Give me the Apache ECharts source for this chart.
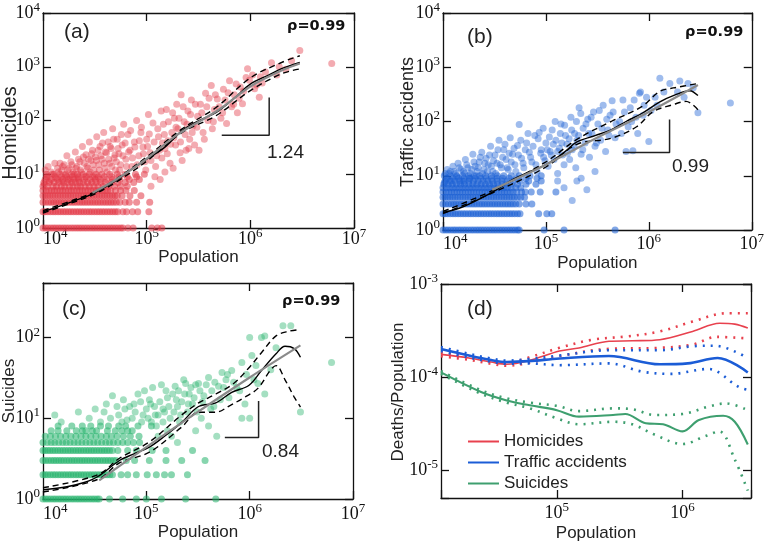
<!DOCTYPE html>
<html><head><meta charset="utf-8">
<script src="https://cdn.jsdelivr.net/npm/echarts@6/dist/echarts.min.js"></script>
<style>html,body{margin:0;padding:0;background:#fff}#c{width:767px;height:543px}</style>
</head><body><div id="c"></div>
<script>
// ---------------- DATA ----------------
// (a) Homicides vs population: integer bands (population lists for each count)
const homBand1 = [1e4,1.06e4,1.12e4,1.19e4,1.26e4,1.33e4,1.41e4,1.49e4,1.58e4,1.67e4,1.77e4,1.88e4,1.99e4,2.11e4,2.23e4,2.36e4,2.5e4,2.65e4,2.81e4,2.98e4,3.15e4,3.34e4,3.54e4,3.75e4,3.97e4,4.21e4,4.46e4,4.72e4,5e4,5.3e4,5.62e4,5.9e4,6.6e4,7.4e4,1.12e5,1.27e5,1.4e5];
const homBand2 = [1e4,1.05e4,1.11e4,1.18e4,1.25e4,1.32e4,1.4e4,1.48e4,1.57e4,1.66e4,1.76e4,1.86e4,1.97e4,2.09e4,2.21e4,2.34e4,2.48e4,2.63e4,2.79e4,2.95e4,3.13e4,3.32e4,3.51e4,3.72e4,3.94e4,4.18e4,4.43e4,4.69e4,4.97e4,5.25e4,5.9e4,6.4e4,7.3e4,8.2e4,1.05e5];
const homBand3 = [1e4,1.06e4,1.13e4,1.2e4,1.27e4,1.34e4,1.42e4,1.5e4,1.59e4,1.69e4,1.79e4,1.9e4,2.01e4,2.13e4,2.26e4,2.39e4,2.53e4,2.68e4,2.84e4,3.01e4,3.19e4,3.38e4,3.58e4,3.8e4,4.03e4,4.27e4,4.52e4,4.79e4,5.1e4,5.5e4,6.2e4,6.8e4,8e4,1.07e5];
const homBand4 = [1e4,1.05e4,1.11e4,1.17e4,1.24e4,1.31e4,1.39e4,1.47e4,1.56e4,1.65e4,1.75e4,1.85e4,1.96e4,2.08e4,2.2e4,2.33e4,2.47e4,2.62e4,2.77e4,2.94e4,3.11e4,3.3e4,3.5e4,3.71e4,3.93e4,4.16e4,4.41e4,4.67e4,4.95e4,5.2e4,5.8e4,6.9e4,8.8e4];
const homBand5 = [1e4,1.07e4,1.14e4,1.21e4,1.29e4,1.37e4,1.46e4,1.55e4,1.65e4,1.76e4,1.87e4,1.99e4,2.12e4,2.26e4,2.4e4,2.56e4,2.72e4,2.9e4,3.08e4,3.28e4,3.49e4,3.72e4,3.96e4,4.2e4,4.5e4,5e4,5.6e4,6.3e4,7.6e4];
const homBand6 = [1e4,1.1e4,1.25e4,1.35e4,1.5e4,1.62e4,1.8e4,1.95e4,2.15e4,2.3e4,2.55e4,2.8e4,3.1e4,3.4e4,3.8e4,4.3e4,4.9e4,5.6e4,6.5e4];
const homBand7 = [1.02e4,1.15e4,1.28e4,1.42e4,1.58e4,1.72e4,1.9e4,2.05e4,2.25e4,2.45e4,2.7e4,2.95e4,3.25e4,3.6e4,4e4,4.6e4,5.3e4,6.2e4,7.5e4];
const homBand8 = [1.05e4,1.2e4,1.38e4,1.55e4,1.75e4,1.98e4,2.2e4,2.5e4,2.85e4,3.2e4,3.55e4,4.1e4,4.7e4,5.5e4,6.8e4,8.5e4];
const homBand9 = [1.1e4,1.3e4,1.5e4,1.7e4,1.92e4,2.2e4,2.6e4,3e4,3.4e4,3.9e4,4.6e4,5.4e4,6.5e4,8e4];
const homBand10 = [1.08e4,1.27e4,1.46e4,1.66e4,1.9e4,2.15e4,2.45e4,2.8e4,3.25e4,3.7e4,4.4e4,5.2e4,6.2e4,7.8e4,9.5e4];
const homCloud = [[1.05e4,12],[1.12e4,14],[1.2e4,11],[1.3e4,16],[1.38e4,13],[1.46e4,16],[1.52e4,12],[1.6e4,15],[1.7e4,22],[1.78e4,13],[1.86e4,17],[1.95e4,11],[2.05e4,26],[2.12e4,14],[2.2e4,19],[2.3e4,12],[2.4e4,33],[2.5e4,16],[2.6e4,23],[2.7e4,13],[2.8e4,40],[2.9e4,18],[3e4,28],[3.1e4,12],[3.2e4,21],[3.3e4,50],[3.45e4,15],[3.55e4,33],[3.7e4,19],[3.85e4,60],[3.95e4,13],[4.1e4,25],[4.25e4,40],[4.4e4,16],[4.55e4,30],[4.7e4,70],[4.85e4,20],[5e4,12],[5.2e4,45],[5.4e4,24],[5.6e4,15],[5.8e4,35],[6e4,85],[6.3e4,19],[6.6e4,55],[6.9e4,28],[7.2e4,14],[7.6e4,40],[8e4,100],[8.4e4,22],[8.8e4,60],[9.2e4,32],[9.6e4,17],[1e5,45],[1.04e5,130],[1.08e5,25],[1.1e5,6],[1.2e5,9],[1.35e5,8],[1.5e5,11],[1.25e5,22],[1.3e5,50],[1.4e5,20],[1.45e5,85],[1.5e5,30],[1.55e5,160],[1.6e5,42],[1.68e5,16],[1.75e5,60],[1.8e5,13],[1.85e5,110],[1.9e5,35],[1.95e5,200],[2e5,70],[2.1e5,25],[2.15e5,300],[2.2e5,18],[2.3e5,95],[2.4e5,28],[2.5e5,150],[2.6e5,45],[2.7e5,240],[2.8e5,80],[2.9e5,35],[3.1e5,120],[3.2e5,28],[3.3e5,200],[3.5e5,60],[3.7e5,320],[3.9e5,100],[4.2e5,450],[4.3e5,70],[4.5e5,160],[4.8e5,250],[5.2e5,110],[5.5e5,380],[5.9e5,88],[6.3e5,550],[6.6e5,180],[7e5,300],[7.5e5,140],[8e5,420],[8.4e5,205],[9.1e5,630],[9.4e5,920],[1.1e6,390],[1.22e6,270],[1.3e6,500],[1.4e6,800],[1.6e6,1190],[1.8e6,700],[2.2e6,900],[2.5e6,1300],[3e6,2000],[6.1e6,1150]];
const homCloud2 = [[1.03e4,6.5],[1.09e4,9],[1.15e4,7.5],[1.23e4,10],[1.33e4,8.5],[1.41e4,11],[1.5e4,7.5],[1.55e4,14],[1.65e4,9.5],[1.73e4,12],[1.82e4,8],[1.9e4,15],[2e4,10],[2.08e4,13],[2.17e4,8.5],[2.27e4,17],[2.35e4,11],[2.45e4,21],[2.55e4,9],[2.65e4,14],[2.75e4,19],[2.85e4,11],[2.95e4,24],[3.05e4,15],[3.15e4,9],[3.27e4,18],[3.4e4,28],[3.5e4,12],[3.62e4,22],[3.75e4,38],[3.9e4,16],[4e4,26],[4.15e4,11],[4.3e4,19],[4.45e4,33],[4.6e4,14],[4.8e4,45],[4.95e4,23],[5.1e4,17],[5.3e4,30],[5.5e4,12],[5.7e4,55],[5.9e4,22],[6.2e4,38],[6.4e4,14],[6.7e4,26],[7e4,65],[7.3e4,20],[7.7e4,32],[8.1e4,15],[8.5e4,42],[8.9e4,75],[9.3e4,24],[9.8e4,12],[1.02e5,33],[1.06e5,56],[1.1e5,18],[1.15e5,90],[1.18e5,40],[1.22e5,14],[1.28e5,70],[1.33e5,28],[1.38e5,150],[1.42e5,38],[1.48e5,55],[1.58e5,24],[1.62e5,95],[1.7e5,36],[1.78e5,140],[1.83e5,48],[1.92e5,75],[2.05e5,110],[2.12e5,40],[2.25e5,180],[2.35e5,55],[2.45e5,85],[2.55e5,30],[2.65e5,130],[2.75e5,60],[2.95e5,200],[3.05e5,75],[3.4e5,140],[3.6e5,45],[3.8e5,180],[4e5,260],[4.4e5,95],[4.6e5,300],[5e5,180],[5.4e5,140],[5.7e5,240],[6.1e5,330],[6.9e5,200],[7.3e5,480],[7.8e5,260],[8.6e5,350],[9.8e5,560],[1.05e6,700],[1.15e6,460],[1.25e6,650],[1.9e6,1000]];
const homFit = [[1e4,2.0],[1.5e4,2.6],[2e4,3.2],[3e4,4.3],[5e4,7.5],[7e4,12],[1e5,19],[1.5e5,32],[2.2e5,65],[3.2e5,100],[4.7e5,142],[7e5,260],[1e6,475],[1.5e6,700],[2e6,920],[3e6,1200]];
const homGrey = [[3e4,4.5],[5e4,7.8],[1e5,19.5],[2e5,55],[5e5,160],[1e6,430],[2e6,850],[3e6,1150]];
const homUpper = [[1e4,2.1],[2e4,3.35],[3e4,4.5],[5e4,8],[1e5,21],[2.2e5,70],[4.7e5,176],[1e6,620],[2e6,1200],[3e6,1600]];
const homLower = [[1e4,1.9],[2e4,3.05],[3e4,4.1],[5e4,7],[1e5,17.5],[2.2e5,60],[4.7e5,124],[1e6,360],[2e6,740],[3e6,910]];
const homSlope = [[5.3e5,53],[1.52e6,53],[1.52e6,267]];

// (b) Traffic accidents
const trfBand1 = [1e4,1.06e4,1.12e4,1.19e4,1.26e4,1.33e4,1.41e4,1.49e4,1.58e4,1.67e4,1.77e4,1.88e4,1.99e4,2.11e4,2.23e4,2.36e4,2.5e4,2.65e4,2.81e4,2.98e4,3.15e4,3.34e4,3.54e4,3.75e4,3.97e4,4.21e4,4.46e4,4.72e4,5e4,5.3e4,5.5e4,9.6e4,1.5e5,4.7e5];
const trfBand2 = [1e4,1.05e4,1.11e4,1.18e4,1.25e4,1.32e4,1.4e4,1.48e4,1.57e4,1.66e4,1.76e4,1.86e4,1.97e4,2.09e4,2.21e4,2.34e4,2.48e4,2.63e4,2.79e4,2.95e4,3.13e4,3.32e4,3.51e4,3.72e4,3.94e4,4.18e4,4.43e4,4.69e4,4.97e4,5.3e4,5.6e4,8.5e4,1.02e5,1.14e5];
const trfBand3 = [1e4,1.06e4,1.13e4,1.2e4,1.27e4,1.34e4,1.42e4,1.5e4,1.59e4,1.69e4,1.79e4,1.9e4,2.01e4,2.13e4,2.26e4,2.39e4,2.53e4,2.68e4,2.84e4,3.01e4,3.19e4,3.38e4,3.58e4,3.8e4,4.03e4,4.27e4,4.52e4,4.79e4,5.1e4,5.5e4,6.4e4,7.3e4];
const trfBand4 = [1e4,1.05e4,1.11e4,1.17e4,1.24e4,1.31e4,1.39e4,1.47e4,1.56e4,1.65e4,1.75e4,1.85e4,1.96e4,2.08e4,2.2e4,2.33e4,2.47e4,2.62e4,2.77e4,2.94e4,3.11e4,3.3e4,3.5e4,3.71e4,3.93e4,4.16e4,4.41e4,4.67e4,4.95e4,5.3e4,5.7e4,6.2e4];
const trfBand5 = [1e4,1.07e4,1.14e4,1.21e4,1.29e4,1.37e4,1.46e4,1.55e4,1.65e4,1.76e4,1.87e4,1.99e4,2.12e4,2.26e4,2.4e4,2.56e4,2.72e4,2.9e4,3.08e4,3.28e4,3.49e4,3.72e4,3.96e4,4.2e4,4.5e4,4.8e4,5.2e4,5.8e4,6.3e4,7.2e4,8.8e4,1.25e5];
const trfBand6 = [1e4,1.08e4,1.16e4,1.25e4,1.34e4,1.44e4,1.55e4,1.66e4,1.79e4,1.92e4,2.06e4,2.22e4,2.38e4,2.56e4,2.75e4,2.95e4,3.17e4,3.4e4,3.66e4,3.93e4,4.22e4,4.6e4,5.1e4,5.7e4];
const trfBand7 = [1.02e4,1.12e4,1.23e4,1.35e4,1.48e4,1.62e4,1.78e4,1.95e4,2.14e4,2.35e4,2.58e4,2.83e4,3.1e4,3.4e4,3.75e4,4.1e4,4.6e4,5.3e4,6.4e4,8e4];
const trfBand8 = [1.05e4,1.17e4,1.3e4,1.45e4,1.6e4,1.78e4,1.98e4,2.2e4,2.45e4,2.72e4,3.02e4,3.36e4,3.75e4,4.2e4,4.8e4,5.6e4,6.8e4,9e4];
const trfBand9 = [1.1e4,1.25e4,1.42e4,1.6e4,1.82e4,2.05e4,2.32e4,2.62e4,2.97e4,3.35e4,3.8e4,4.4e4,5.2e4,6.4e4,8.2e4];
const trfBand10 = [1.03e4,1.18e4,1.36e4,1.55e4,1.77e4,2e4,2.28e4,2.6e4,2.95e4,3.38e4,3.9e4,4.6e4,5.5e4,7e4,9e4];
const trfCloud = [[1.05e4,11],[1.1e4,13],[1.18e4,12],[1.25e4,15],[1.32e4,11],[1.4e4,17],[1.5e4,13],[1.58e4,12],[1.65e4,20],[1.75e4,14],[1.85e4,11],[1.95e4,25],[2.05e4,15],[2.15e4,12],[2.25e4,18],[2.38e4,27],[2.5e4,13],[2.62e4,21],[2.75e4,16],[2.9e4,35],[3.05e4,12],[3.2e4,24],[3.35e4,17],[3.5e4,45],[3.7e4,14],[3.9e4,30],[4.1e4,20],[4.3e4,13],[4.5e4,50],[4.75e4,25],[5e4,16],[5.3e4,36],[5.5e4,88],[5.8e4,21],[6.1e4,14],[6.5e4,40],[6.9e4,27],[7.3e4,18],[7.8e4,55],[8.2e4,12],[8.6e4,63],[9e4,30],[9.5e4,22],[1e5,40],[1.05e5,15],[1.1e5,28],[1.15e5,70],[1.2e5,20],[1.25e5,45],[1.3e5,11],[1.35e5,32],[1.4e5,90],[1.45e5,24],[1.5e5,16],[1.55e5,55],[1.6e5,38],[1.7e5,20],[1.75e5,120],[1.8e5,30],[1.9e5,60],[1.95e5,14],[2e5,45],[2.1e5,180],[2.2e5,25],[2.3e5,75],[2.4e5,40],[2.5e5,5.5],[2.55e5,110],[2.65e5,22],[2.8e5,60],[2.9e5,150],[3e5,35],[3.2e5,90],[3.4e5,45],[3.6e5,200],[3.8e5,28],[4e5,70],[4.2e5,130],[4.5e5,150],[4.7e5,50],[5.2e5,100],[5.6e5,250],[6e5,28],[6.3e5,80],[6.6e5,180],[7e5,29],[7.5e5,120],[8.1e5,330],[8.3e5,350],[9e5,200],[1e6,43],[1.05e6,160],[1.15e6,280],[1.28e6,630],[1.6e6,500],[1.9e6,350],[2.4e6,500],[2.7e6,420],[3e6,145],[6.2e6,220],[1.3e5,8],[1.5e5,6],[2e5,8],[2.2e5,9],[3e5,12],[1.8e5,3.5]];
const trfCloud2 = [[1.03e4,7.5],[1.08e4,9],[1.14e4,11],[1.2e4,8],[1.28e4,12],[1.36e4,9.5],[1.44e4,14],[1.53e4,8],[1.62e4,11],[1.7e4,16],[1.8e4,9],[1.9e4,13],[2e4,18],[2.1e4,10],[2.2e4,14],[2.3e4,22],[2.42e4,11],[2.55e4,17],[2.7e4,12],[2.83e4,24],[2.95e4,15],[3.1e4,19],[3.25e4,11],[3.42e4,30],[3.6e4,16],[3.8e4,22],[4e4,38],[4.2e4,14],[4.4e4,26],[4.6e4,18],[4.9e4,32],[5.1e4,12],[5.4e4,24],[5.7e4,45],[6e4,17],[6.3e4,30],[6.7e4,60],[7.1e4,22],[7.5e4,35],[8e4,16],[8.4e4,48],[8.9e4,26],[9.4e4,75],[9.8e4,19],[1.03e5,30],[1.08e5,52],[1.13e5,24],[1.18e5,38],[1.23e5,100],[1.3e5,28],[1.38e5,60],[1.43e5,40],[1.52e5,85],[1.62e5,26],[1.68e5,48],[1.78e5,70],[1.88e5,35],[1.98e5,100],[2.08e5,55],[2.18e5,140],[2.28e5,30],[2.45e5,90],[2.6e5,60],[2.75e5,120],[3.1e5,40],[3.3e5,160],[3.5e5,75],[3.9e5,110],[4.1e5,55],[4.4e5,240],[4.8e5,90],[5.4e5,60],[5.8e5,150],[6.8e5,100],[7.2e5,250],[7.8e5,60],[8.8e5,130],[9.5e5,280],[1.2e6,200],[1.4e6,350],[2e6,560],[2.2e6,280]];
const trfFit = [[1e4,2.1],[1.5e4,2.6],[2.3e4,3.8],[3.3e4,5.5],[4.7e4,8.4],[7e4,12],[1e5,16],[1.5e5,27],[2e5,42],[3e5,55],[4.3e5,70],[6e5,100],[8.6e5,142],[1.28e6,230],[1.8e6,310],[2.5e6,370],[3e6,300]];
const trfGrey = [[3e4,5.5],[1e5,16],[3e5,48],[1e6,150],[3e6,470]];
const trfUpper = [[1e4,2.2],[3e4,5.3],[1e5,18],[2e5,47],[4.3e5,100],[8.6e5,190],[1.28e6,360],[1.8e6,420],[3e6,500]];
const trfLower = [[1e4,2.0],[3e4,4.8],[1e5,14.5],[2e5,38],[4.3e5,49],[7.6e5,80],[1.1e6,152],[1.7e6,203],[2.3e6,235],[3e6,165]];
const trfSlope = [[5.6e5,26.7],[1.59e6,26.7],[1.59e6,109]];

// (c) Suicides
const suiBand1 = [1e4,1.06e4,1.12e4,1.19e4,1.26e4,1.33e4,1.41e4,1.49e4,1.58e4,1.67e4,1.77e4,1.88e4,1.99e4,2.11e4,2.23e4,2.36e4,2.5e4,2.65e4,2.81e4,2.98e4,3.15e4,3.34e4,3.5e4,4.4e4,5.9e4,8e4,1e5,1.4e5,2.4e5,4.7e5];
const suiBand2 = [1e4,1.05e4,1.11e4,1.18e4,1.25e4,1.32e4,1.4e4,1.48e4,1.57e4,1.66e4,1.76e4,1.86e4,1.97e4,2.09e4,2.21e4,2.34e4,2.48e4,2.63e4,2.79e4,2.95e4,3.13e4,3.32e4,3.51e4,3.72e4,3.94e4,4.18e4,4.43e4,4.7e4,5.7e4,6.6e4,8e4,1.02e5,1.25e5,1.5e5,1.75e5,2.5e5];
const suiBand3 = [1e4,1.06e4,1.13e4,1.2e4,1.27e4,1.34e4,1.42e4,1.5e4,1.59e4,1.69e4,1.79e4,1.9e4,2.01e4,2.13e4,2.26e4,2.39e4,2.53e4,2.68e4,2.84e4,3.01e4,3.19e4,3.38e4,3.58e4,3.8e4,4.03e4,4.27e4,4.52e4,4.8e4,5.1e4,6.4e4,7.7e4,1.07e5,1.55e5,2.2e5,3.7e5];
const suiBand4 = [1e4,1.05e4,1.11e4,1.17e4,1.24e4,1.31e4,1.39e4,1.47e4,1.56e4,1.65e4,1.75e4,1.85e4,1.96e4,2.08e4,2.2e4,2.33e4,2.47e4,2.62e4,2.77e4,2.94e4,3.11e4,3.3e4,3.5e4,3.71e4,3.93e4,4.16e4,4.41e4,4.7e4,5.3e4,6.6e4,8e4,1.14e5,1.55e5,2.8e5];
const suiBand5 = [1e4,1.1e4,1.2e4,1.3e4,1.42e4,1.55e4,1.68e4,1.83e4,2e4,2.18e4,2.38e4,2.6e4,2.84e4,3.1e4,3.38e4,3.7e4,4.05e4,4.4e4,4.8e4,5.3e4,5.9e4,6.6e4,7.5e4,8.6e4];
const suiBand6 = [1.05e4,1.18e4,1.32e4,1.48e4,1.66e4,1.86e4,2.08e4,2.33e4,2.6e4,2.9e4,3.25e4,3.65e4,4.1e4,4.6e4,5.2e4,6e4,7e4,8.5e4];
const suiBand7 = [1.2e4,1.4e4,1.7e4,2.1e4,2.4e4,2.6e4,3e4,3.3e4,4.2e4,5e4,5.8e4,6.6e4,7.3e4];
const suiBand8 = [1.4e4,1.9e4,2.4e4,2.9e4,3.6e4,4.3e4,5.4e4,6.3e4,8.3e4,1.12e5];
const suiCloud = [[1.5e4,9],[2.8e4,10],[3.6e4,9],[3.9e4,12],[4.5e4,10],[4.7e4,19],[5.4e4,11],[5.8e4,9],[6.2e4,13],[6.9e4,14],[7.3e4,10],[7.8e4,12],[8.8e4,16],[9.3e4,11],[1e5,13],[1.07e5,17],[1.12e5,9],[1.2e5,14],[1.3e5,11],[1.4e5,26],[1.5e5,12],[1.6e5,18],[1.7e5,10],[1.8e5,20],[1.9e5,25],[2e5,14],[2.1e5,9],[2.2e5,16],[2.3e5,30],[2.4e5,27],[2.5e5,12],[2.6e5,20],[2.8e5,15],[3e5,26],[3.2e5,27],[3.4e5,10],[3.6e5,19],[4e5,32],[4.3e5,22],[4.5e5,14],[4.8e5,6],[5e5,25],[5.4e5,37],[5.9e5,30],[6.3e5,18],[6.7e5,39],[7.5e5,24],[8.4e5,49],[8.4e5,10],[9e5,15],[1e6,100],[1e6,10],[1.1e6,30],[1.2e6,27],[1.3e6,100],[1.4e6,20],[1.4e6,105],[2.1e6,140],[2.5e6,140],[3.1e6,12],[6.2e6,49],[1.3e5,6],[1.6e5,7],[2e5,5],[3e5,7],[4e5,8],[1.25e5,8],[1.45e5,9],[1.75e5,6]];
const suiCloud2 = [[1.3e4,11],[2.2e4,12],[3.2e4,13],[4.1e4,15],[5.2e4,14],[6e4,17],[6.5e4,9.5],[7.6e4,15],[8.3e4,20],[9e4,9],[9.6e4,22],[1.04e5,10],[1.1e5,15],[1.15e5,24],[1.22e5,11],[1.35e5,16],[1.45e5,13],[1.55e5,22],[1.65e5,14],[1.85e5,12],[1.95e5,17],[2.05e5,22],[2.15e5,11],[2.35e5,20],[2.55e5,15],[2.7e5,24],[2.9e5,18],[3.1e5,12],[3.3e5,22],[3.5e5,16],[3.8e5,26],[4.2e5,13],[4.6e5,28],[5.2e5,17],[5.6e5,24],[6.1e5,35],[7e5,28],[8e5,22],[9.3e5,35],[1.05e6,60],[1.15e6,45],[1.6e6,40],[1.8e6,75]];
const suiFit = [[1e4,1.3],[1.7e4,1.42],[2.5e4,1.6],[3.4e4,1.9],[5.5e4,3.0],[7.5e4,3.6],[1.07e5,4.4],[1.5e5,6],[2.2e5,8.9],[3.2e5,14],[4.7e5,15.5],[6.7e5,21],[9.8e5,25.5],[1.3e6,39],[1.8e6,63],[2.2e6,78],[2.7e6,73],[3.1e6,57]];
const suiGrey = [[3.5e4,1.7],[1e5,4.4],[3e5,11.5],[1e6,32],[3.1e6,80]];
const suiUpper = [[1e4,1.38],[3.4e4,2.0],[5.5e4,3.2],[1.07e5,5.1],[2.2e5,11],[3.2e5,15.5],[4.7e5,20],[7e5,27],[9.8e5,42],[1.3e6,65],[1.8e6,105],[2.4e6,120],[3.1e6,126]];
const suiLower = [[1e4,1.22],[3.4e4,1.75],[5.5e4,2.8],[1.07e5,3.8],[2.2e5,7.8],[3.2e5,11.9],[4.7e5,11.9],[6.5e5,14.5],[9e5,18.3],[1.2e6,23.5],[1.6e6,40],[1.8e6,45],[2.2e6,30],[2.7e6,18.3],[3.1e6,13.8]];
const suiSlope = [[5.75e5,5.8],[1.22e6,5.8],[1.22e6,16.4]];

// (d) Deaths / population
const rateHom = [[1.2e4,1.75e-4],[2e4,1.6e-4],[3e4,1.45e-4],[4e4,1.37e-4],[6e4,1.5e-4],[1.05e5,1.9e-4],[1.5e5,2.05e-4],[2.6e5,2.42e-4],[4e5,2.45e-4],[6.6e5,2.52e-4],[1.2e6,3.09e-4],[1.97e6,3.79e-4],[2.6e6,3.7e-4],[3.3e6,3.36e-4]];
const rateHomUp = [[1.2e4,1.84e-4],[2e4,1.67e-4],[3e4,1.5e-4],[4e4,1.42e-4],[6e4,1.62e-4],[1.05e5,2.06e-4],[1.93e5,2.52e-4],[3.6e5,2.73e-4],[6.6e5,3.09e-4],[1.2e6,3.94e-4],[2.2e6,4.84e-4],[3.3e6,4.85e-4]];
const rateHomLo = [[1.2e4,1.67e-4],[2e4,1.53e-4],[3e4,1.39e-4],[4e4,1.32e-4],[6e4,1.42e-4],[1.05e5,1.68e-4],[2.6e5,2.01e-4],[6.6e5,2.06e-4],[1.2e6,2.23e-4],[1.86e6,2.7e-4],[3.3e6,2.6e-4]];
const rateTrf = [[1.2e4,2.0e-4],[2e4,1.7e-4],[3e4,1.52e-4],[4e4,1.45e-4],[6e4,1.48e-4],[1.05e5,1.58e-4],[2.6e5,1.68e-4],[6.6e5,1.37e-4],[1.1e6,1.4e-4],[1.9e6,1.6e-4],[3.3e6,1.12e-4]];
const rateTrfUp = [[1.2e4,2.1e-4],[2e4,1.78e-4],[3e4,1.58e-4],[4e4,1.5e-4],[6e4,1.56e-4],[1.05e5,1.7e-4],[2.6e5,1.94e-4],[6.6e5,1.94e-4],[1.2e6,2.14e-4],[1.8e6,2.17e-4],[3.3e6,1.6e-4]];
const rateTrfLo = [[1.2e4,1.9e-4],[2e4,1.62e-4],[3e4,1.46e-4],[4e4,1.39e-4],[6e4,1.4e-4],[1.05e5,1.34e-4],[2.6e5,1.4e-4],[4.8e5,1.14e-4],[8e5,1.08e-4],[1.6e6,1.22e-4],[2.8e6,7.8e-5],[3.3e6,7.3e-5]];
const rateSui = [[1.2e4,1.12e-4],[2.5e4,6.9e-5],[4e4,5.6e-5],[6.1e4,4.97e-5],[1e5,4.4e-5],[1.5e5,3.75e-5],[2.8e5,3.9e-5],[3.5e5,4.0e-5],[5.1e5,3.18e-5],[7e5,3.1e-5],[1e6,2.6e-5],[1.35e6,3.45e-5],[2.1e6,3.83e-5],[2.6e6,3.3e-5],[3.3e6,1.88e-5]];
const rateSuiUp = [[1.2e4,1.16e-4],[2.5e4,7.2e-5],[4e4,5.9e-5],[6.1e4,5.3e-5],[1e5,4.9e-5],[1.5e5,4.3e-5],[2.8e5,4.6e-5],[4e5,4.5e-5],[6e5,3.9e-5],[1e6,4.0e-5],[1.6e6,4.8e-5],[2.2e6,5.2e-5],[3.3e6,4.4e-5]];
const rateSuiLo = [[1.2e4,1.08e-4],[2.5e4,6.6e-5],[4e4,5.3e-5],[6.1e4,4.6e-5],[1e5,3.6e-5],[1.5e5,3.1e-5],[2.8e5,3.3e-5],[4e5,3.1e-5],[6e5,2.4e-5],[1e6,1.9e-5],[1.5e6,2.3e-5],[1.96e6,2.6e-5],[2.6e6,1.3e-5],[3.3e6,6.0e-6]];

const seriesNames = ['Homicides', 'Traffic accidents', 'Suicides'];
const rhoText = ['\u03c1=0.99', '\u03c1=0.99', '\u03c1=0.99'];
const slopeText = ['1.24', '0.99', '0.84'];
const yTitles = ['Homicides', 'Traffic accidents', 'Suicides', 'Deaths/Population'];

// ---------------- CHART ----------------
const chart = echarts.init(document.getElementById('c'));
const band = (pops, h) => pops.map(p => [p, h]);
const homBandPts = [].concat(band(homBand1,1),band(homBand2,2),band(homBand3,3),band(homBand4,4),band(homBand5,5),band(homBand6,6),band(homBand7,7),band(homBand8,8),band(homBand9,9),band(homBand10,10));
const trfBandPts = [].concat(band(trfBand1,1),band(trfBand2,2),band(trfBand3,3),band(trfBand4,4),band(trfBand5,5),band(trfBand6,6),band(trfBand7,7),band(trfBand8,8),band(trfBand9,9),band(trfBand10,10));
const suiBandPts = [].concat(band(suiBand1,1),band(suiBand2,2),band(suiBand3,3),band(suiBand4,4),band(suiBand5,5),band(suiBand6,6),band(suiBand7,7),band(suiBand8,8));

const grids = [
  {left: 43, top: 13, width: 311, height: 215},
  {left: 443, top: 13, width: 309, height: 217},
  {left: 43, top: 283, width: 310, height: 216},
  {left: 441, top: 284, width: 310, height: 217}
];
const xRange = [[1e4,1e7],[1e4,1e7],[1e4,1e7],[1.2e4,3.5e6]];
const yRange = [[1,1e4],[1,1e4],[1,475],[5e-6,1e-3]];
const xLabelMargin = [-1, 2, 3, 3];
const xNameGap = [10, 25, 25, 27];
const yLabelMargin = [3, 3, 3, 3];
// y-axis titles: centre position and size
const yTitlePos = [[10, 133], [408, 122], [9, 391], [398, 392]];
const yTitleSize = [20, 18, 17, 17];

const axisLineStyle = {color: '#111', width: 1.3};
const labelFmt = v => {
  const e = Math.log10(v); const r = Math.round(e);
  if (Math.abs(e - r) > 1e-6) return '';
  return '{b|10}{s|' + r + '}';
};
const richLbl = {
  b: {fontFamily: 'Liberation Serif', fontSize: 18, color: '#111', lineHeight: 24},
  s: {fontFamily: 'Liberation Serif', fontSize: 13, color: '#111', lineHeight: 13, verticalAlign: 'top'}
};
const xAxes = [], yAxes = [];
for (let i = 0; i < 4; i++) {
  xAxes.push({type: 'log', logBase: 10, gridIndex: i, min: xRange[i][0], max: xRange[i][1], position: 'bottom',
    name: 'Population', nameLocation: 'middle', nameGap: xNameGap[i],
    nameTextStyle: {fontFamily: 'Liberation Sans', fontSize: 17, color: '#222'},
    axisLine: {show: true, lineStyle: axisLineStyle}, splitLine: {show: false},
    axisTick: {show: true, inside: true, length: 8, lineStyle: axisLineStyle},
    minorTick: {show: false},
    axisLabel: {show: true, margin: xLabelMargin[i], formatter: labelFmt, rich: richLbl, hideOverlap: false,
      showMinLabel: true, showMaxLabel: true, alignMinLabel: i < 3 ? 'left' : 'center'}});
  xAxes.push({type: 'log', logBase: 10, gridIndex: i, min: xRange[i][0], max: xRange[i][1], position: 'top',
    axisLine: {show: true, lineStyle: axisLineStyle}, splitLine: {show: false},
    axisTick: {show: true, inside: true, length: 8, lineStyle: axisLineStyle}, axisLabel: {show: false}});
  yAxes.push({type: 'log', logBase: 10, gridIndex: i, min: yRange[i][0], max: yRange[i][1], position: 'left',
    axisLine: {show: true, lineStyle: axisLineStyle}, splitLine: {show: false},
    axisTick: {show: true, inside: true, length: 8, lineStyle: axisLineStyle},
    axisLabel: {show: true, margin: yLabelMargin[i], formatter: labelFmt, rich: richLbl, hideOverlap: false, showMinLabel: true, showMaxLabel: true}});
  yAxes.push({type: 'log', logBase: 10, gridIndex: i, min: yRange[i][0], max: yRange[i][1], position: 'right',
    axisLine: {show: true, lineStyle: axisLineStyle}, splitLine: {show: false},
    axisTick: {show: true, inside: true, length: 8, lineStyle: axisLineStyle}, axisLabel: {show: false}});
}

const series = [];
function scatterPanel(i, bandPts, cloudPts, color) {
  series.push({type: 'scatter', xAxisIndex: 2*i, yAxisIndex: 2*i, data: bandPts, symbolSize: 7, silent: true,
    itemStyle: {color: color, opacity: 0.55}, z: 1});
  series.push({type: 'scatter', xAxisIndex: 2*i, yAxisIndex: 2*i, data: cloudPts, symbolSize: 7, silent: true,
    itemStyle: {color: color, opacity: 0.42}, z: 1});
}
function fitPanel(i, fit, grey, up, lo, slope) {
  const base = {type: 'line', xAxisIndex: 2*i, yAxisIndex: 2*i, showSymbol: false, symbol: 'none', silent: true, smooth: 0.35};
  series.push(Object.assign({}, base, {data: up, lineStyle: {color: '#000', width: 1.4, type: [6, 4]}, z: 3}));
  series.push(Object.assign({}, base, {data: lo, lineStyle: {color: '#000', width: 1.4, type: [6, 4]}, z: 3}));
  series.push(Object.assign({}, base, {data: fit, lineStyle: {color: '#000', width: 1.4}, z: 4}));
  series.push(Object.assign({}, base, {data: grey, lineStyle: {color: '#8a8a8a', width: 2.2}, z: 5}));
  series.push(Object.assign({}, base, {data: slope, smooth: false, lineStyle: {color: '#222', width: 1.5}, z: 4}));
}
scatterPanel(0, homBandPts, homCloud.concat(homCloud2), '#e23645');
fitPanel(0, homFit, homGrey, homUpper, homLower, homSlope);
scatterPanel(1, trfBandPts, trfCloud.concat(trfCloud2), '#1a5fd4');
fitPanel(1, trfFit, trfGrey, trfUpper, trfLower, trfSlope);
scatterPanel(2, suiBandPts, suiCloud.concat(suiCloud2), '#25b26b');
fitPanel(2, suiFit, suiGrey, suiUpper, suiLower, suiSlope);

const dColors = ['#e8414e', '#1b5cd6', '#3e9f6f'];
const dWidths = [1.6, 2.6, 2.1];
const dSets = [[rateHom, rateHomUp, rateHomLo], [rateTrf, rateTrfUp, rateTrfLo], [rateSui, rateSuiUp, rateSuiLo]];
dSets.forEach((set, k) => {
  const base = {type: 'line', xAxisIndex: 6, yAxisIndex: 6, showSymbol: false, symbol: 'none', silent: true, smooth: 0.35};
  series.push(Object.assign({}, base, {name: seriesNames[k] + ' upper', data: set[1], lineStyle: {color: dColors[k], width: 2.6, type: [2, 6]}}));
  series.push(Object.assign({}, base, {name: seriesNames[k] + ' lower', data: set[2], lineStyle: {color: dColors[k], width: 2.6, type: [2, 6]}}));
  series.push(Object.assign({}, base, {name: seriesNames[k], data: set[0], itemStyle: {color: dColors[k]}, lineStyle: {color: dColors[k], width: dWidths[k]}}));
});

const textStyleBase = {fill: '#222', fontFamily: 'Liberation Sans'};
const graphic = [
  {type: 'text', left: 64, top: 22, style: Object.assign({text: '(a)', fontSize: 21}, textStyleBase)},
  {type: 'text', left: 467, top: 27, style: Object.assign({text: '(b)', fontSize: 21}, textStyleBase)},
  {type: 'text', left: 62, top: 299, style: Object.assign({text: '(c)', fontSize: 21}, textStyleBase)},
  {type: 'text', left: 467, top: 299, style: Object.assign({text: '(d)', fontSize: 21}, textStyleBase)},
  {type: 'text', left: 287, top: 19, style: {text: rhoText[0], fontSize: 14.5, fontWeight: 'bold', fontFamily: 'DejaVu Sans', fill: '#111'}},
  {type: 'text', left: 685, top: 25, style: {text: rhoText[1], fontSize: 14.5, fontWeight: 'bold', fontFamily: 'DejaVu Sans', fill: '#111'}},
  {type: 'text', left: 282, top: 294, style: {text: rhoText[2], fontSize: 14.5, fontWeight: 'bold', fontFamily: 'DejaVu Sans', fill: '#111'}},
  {type: 'text', left: 267, top: 143, style: Object.assign({text: slopeText[0], fontSize: 19}, textStyleBase)},
  {type: 'text', left: 672, top: 157, style: Object.assign({text: slopeText[1], fontSize: 19}, textStyleBase)},
  {type: 'text', left: 262, top: 442, style: Object.assign({text: slopeText[2], fontSize: 19}, textStyleBase)}
];
yTitles.forEach((t, i) => {
  graphic.push({type: 'text', x: yTitlePos[i][0], y: yTitlePos[i][1], rotation: Math.PI / 2,
    style: {text: t, fontSize: yTitleSize[i], fontFamily: 'Liberation Sans', fill: '#222', align: 'center', verticalAlign: 'middle'}});
});

chart.setOption({
  animation: false,
  backgroundColor: '#fff',
  grid: grids.map(g => Object.assign({show: false, containLabel: false}, g)),
  xAxis: xAxes, yAxis: yAxes,
  legend: {data: seriesNames, orient: 'vertical', left: 463, top: 428, icon: 'rect', itemWidth: 31, itemHeight: 2,
    itemGap: 4, selectedMode: false,
    textStyle: {fontFamily: 'Liberation Sans', fontSize: 17, color: '#222', lineHeight: 17}},
  series: series,
  graphic: graphic
});
</script></body></html>
